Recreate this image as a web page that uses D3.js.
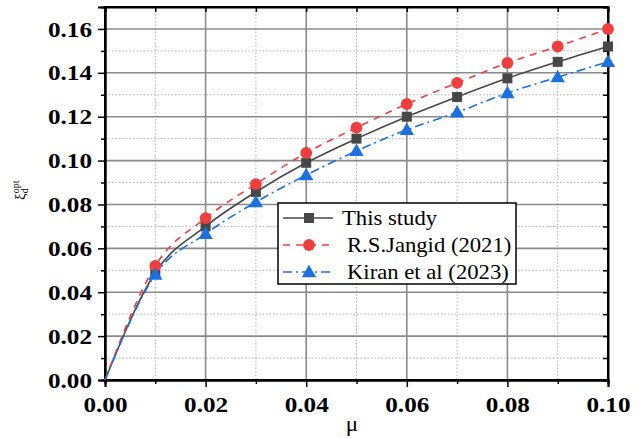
<!DOCTYPE html>
<html><head><meta charset="utf-8">
<script src="https://cdn.jsdelivr.net/npm/d3@7"></script>
<style>body{margin:0;background:#fff}svg{display:block}</style>
</head><body><svg id="c" width="644" height="438"></svg>
<script>
const mu = [0, 0.01, 0.02, 0.03, 0.04, 0.05, 0.06, 0.07, 0.08, 0.09, 0.10];
const thisStudy = [0, 0.049, 0.070, 0.0857, 0.099, 0.110, 0.120, 0.129, 0.1375, 0.145, 0.152];
const jangid = [0, 0.052, 0.0738, 0.0893, 0.1035, 0.115, 0.1258, 0.1354, 0.1445, 0.152, 0.160];
const kiran = [0, 0.048, 0.0666, 0.0811, 0.0934, 0.1044, 0.114, 0.122, 0.1308, 0.138, 0.145];
const seriesNames = ["This study", "R.S.Jangid (2021)", "Kiran et al (2023)"];
const xTicks = [0, 0.02, 0.04, 0.06, 0.08, 0.10];
const yTicks = [0, 0.02, 0.04, 0.06, 0.08, 0.10, 0.12, 0.14, 0.16];

const svg = d3.select("#c");
const L = 105, R = 608, T = 7, B = 380;
const x = d3.scaleLinear().domain([0, 0.1]).range([L, R]);
const y = d3.scaleLinear().domain([0, 0.17]).range([B, T]);
const serif = "Liberation Serif, Times New Roman, serif";

const minorX = d3.range(0.01, 0.1, 0.02);
const minorY = d3.range(0.01, 0.17, 0.02);
const g = svg.append("g");
g.selectAll(".mgx").data(minorX).join("line").attr("x1", d => x(d)).attr("x2", d => x(d)).attr("y1", T).attr("y2", B)
  .attr("stroke", "#b0b0b0").attr("stroke-width", 1).attr("stroke-dasharray", "1.5,2");
g.selectAll(".mgy").data(minorY).join("line").attr("y1", d => y(d)).attr("y2", d => y(d)).attr("x1", L).attr("x2", R)
  .attr("stroke", "#b0b0b0").attr("stroke-width", 1).attr("stroke-dasharray", "1.5,2");
g.selectAll(".gx").data(xTicks.slice(1, -1)).join("line").attr("x1", d => x(d)).attr("x2", d => x(d)).attr("y1", T).attr("y2", B)
  .attr("stroke", "#8a8a8a").attr("stroke-width", 1.6);
g.selectAll(".gy").data(yTicks.slice(1)).join("line").attr("y1", d => y(d)).attr("y2", d => y(d)).attr("x1", L).attr("x2", R)
  .attr("stroke", "#8a8a8a").attr("stroke-width", 1.6);

const fmt = d3.format(".2f");
const sx = 1.2;
const xAxis = svg.append("g").attr("transform", `translate(0,${B})`)
  .call(d3.axisBottom(x).tickValues(xTicks).tickFormat(fmt).tickSizeOuter(0).tickSize(7));
const yAxis = svg.append("g").attr("transform", `translate(${L},0)`)
  .call(d3.axisLeft(y).tickValues(yTicks).tickFormat(fmt).tickSizeOuter(0).tickSize(7));
const xMinor = svg.append("g").attr("transform", `translate(0,${B})`)
  .call(d3.axisBottom(x).tickValues(minorX).tickFormat("").tickSizeOuter(0).tickSize(4));
const yMinor = svg.append("g").attr("transform", `translate(${L},0)`)
  .call(d3.axisLeft(y).tickValues(minorY).tickFormat("").tickSizeOuter(0).tickSize(4));
const xTop = svg.append("g").attr("transform", `translate(0,${T})`)
  .call(d3.axisTop(x).tickValues(d3.range(0, 0.1001, 0.01)).tickFormat("").tickSizeOuter(0).tickSize(-5));
const yRight = svg.append("g").attr("transform", `translate(${R},0)`)
  .call(d3.axisRight(y).tickValues(d3.range(0, 0.1701, 0.01)).tickFormat("").tickSizeOuter(0).tickSize(-5));
[xAxis, yAxis, xMinor, yMinor, xTop, yRight].forEach(a => {
  a.attr("font-family", null);
  a.selectAll("path").attr("stroke", "#000").attr("stroke-width", 2);
  a.selectAll("line").attr("stroke", "#000").attr("stroke-width", 1.5);
});
[xAxis, yAxis].forEach(a => a.selectAll("text").style("font-family", serif).style("font-weight", "bold")
  .style("font-size", "21px").attr("fill", "#000"));
xAxis.selectAll("text").attr("y", 32).attr("dy", null).attr("transform", `scale(${sx},1)`);
yAxis.selectAll("text").attr("x", -13 / sx).attr("dy", "0.34em").attr("transform", `scale(${sx},1)`);
svg.append("rect").attr("x", L).attr("y", T).attr("width", R - L).attr("height", B - T)
  .attr("fill", "none").attr("stroke", "#000").attr("stroke-width", 2);

const series = [
  {name: seriesNames[0], vals: thisStudy, color: "#474747", dash: null, marker: "square"},
  {name: seriesNames[1], vals: jangid, color: "#ef3e3e", dash: "7,6", marker: "circle"},
  {name: seriesNames[2], vals: kiran, color: "#1c70e0", dash: "9,4,2,4", marker: "triangle"}
];
const line = d3.line().x((d, i) => x(mu[i])).y(d => y(d)).curve(d3.curveMonotoneX);
const sym = {square: d3.symbolSquare, circle: d3.symbolCircle, triangle: d3.symbolTriangle};
const size = {square: 100, circle: 110, triangle: 90};
series.forEach(s => {
  svg.append("path").datum(s.vals).attr("d", line).attr("fill", "none")
    .attr("stroke", s.color).attr("stroke-width", 1.6).attr("stroke-dasharray", s.dash);
});
series.forEach(s => {
  svg.selectAll(null).data(s.vals.slice(1)).join("path")
    .attr("transform", (d, i) => `translate(${x(mu[i + 1])},${y(d) + (s.marker === "triangle" ? 1 : 0)})`)
    .attr("d", d3.symbol().type(sym[s.marker]).size(size[s.marker])).attr("fill", s.color);
});

const lg = svg.append("g");
lg.append("rect").attr("x", 278).attr("y", 203).attr("width", 238).attr("height", 81)
  .attr("fill", "#fff").attr("stroke", "#000").attr("stroke-width", 1.5);
series.forEach((s, i) => {
  const cy = 218 + i * 27;
  lg.append("line").attr("x1", 283).attr("x2", 333).attr("y1", cy).attr("y2", cy)
    .attr("stroke", s.color).attr("stroke-width", 1.6).attr("stroke-dasharray", s.dash);
  lg.append("path").attr("transform", `translate(309,${cy + (s.marker === "triangle" ? 1 : 0)})`)
    .attr("d", d3.symbol().type(sym[s.marker]).size(size[s.marker])).attr("fill", s.color);
  const tx = i === 0 ? 342 : 347;
  lg.append("text").attr("transform", `translate(${tx},${cy}) scale(1.08,1)`).attr("dy", "0.34em")
    .style("font-family", serif).style("font-size", "21px").attr("fill", "#000").text(s.name);
});

svg.append("text").attr("transform", "translate(352,431) scale(1.1,1)").attr("text-anchor", "middle")
  .style("font-family", serif).style("font-size", "21px").text("μ");
const yl = svg.append("text").attr("transform", "translate(25,200) rotate(-90)").attr("text-anchor", "start")
  .style("font-family", serif).style("font-size", "15px");
yl.append("tspan").text("ξ");
yl.append("tspan").style("font-size", "10px").attr("dy", 3).text("d");
yl.append("tspan").style("font-size", "10px").attr("dy", -9).attr("dx", -5).text("opt");
</script></body></html>
